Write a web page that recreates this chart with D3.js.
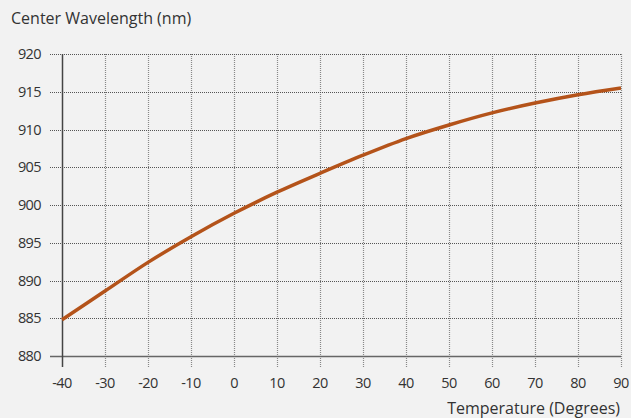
<!DOCTYPE html>
<html>
<head>
<meta charset="utf-8">
<script src="https://cdn.jsdelivr.net/npm/d3@7"></script>
<style>
  html, body { margin: 0; padding: 0; background: #f2f2f2; }
  svg { display: block; }
  text { font-family: "Open Sans", "Noto Sans", sans-serif; fill: #333; }
</style>
</head>
<body>
<svg id="chart" width="631" height="418"></svg>
<script>
// Center wavelength versus temperature
const temperatures = [-40, -30, -20, -10, 0, 10, 20, 30, 40, 50, 60, 70, 80, 90];
const wavelengths = [884.8, 888.6, 892.4, 895.8, 898.9, 901.7, 904.2, 906.6, 908.8, 910.6, 912.2, 913.5, 914.6, 915.5];
const xTicks = [-40, -30, -20, -10, 0, 10, 20, 30, 40, 50, 60, 70, 80, 90];
const yTicks = [880, 885, 890, 895, 900, 905, 910, 915, 920];
const yTitle = "Center Wavelength (nm)";
const xTitle = "Temperature (Degrees)";

const svg = d3.select("#chart");
const plotLeft = 62, plotRight = 621, plotTop = 54, plotBottom = 356;

const x = d3.scaleLinear().domain([-40, 90]).range([plotLeft, plotRight]);
const y = d3.scaleLinear().domain([880, 920]).range([plotBottom, plotTop]);

// vertical dotted grid (extends below the x axis as a tick)
svg.append("g").selectAll("line").data(xTicks.filter(d => d !== -40)).join("line")
  .attr("x1", d => Math.round(x(d)) + 0.5).attr("x2", d => Math.round(x(d)) + 0.5)
  .attr("y1", plotTop).attr("y2", plotBottom + 11)
  .attr("stroke", "#888").attr("stroke-width", 1.2).attr("stroke-dasharray", "1,1");

// horizontal dotted grid (extends past the y axis as a tick)
svg.append("g").selectAll("line").data(yTicks.filter(d => d !== 880)).join("line")
  .attr("x1", plotLeft - 12).attr("x2", plotRight)
  .attr("y1", d => Math.round(y(d)) + 0.5).attr("y2", d => Math.round(y(d)) + 0.5)
  .attr("stroke", "#555").attr("stroke-width", 1).attr("stroke-dasharray", "1,1");

// axis lines
svg.append("line")
  .attr("x1", plotLeft - 12).attr("x2", plotRight)
  .attr("y1", Math.round(y(880)) + 0.5).attr("y2", Math.round(y(880)) + 0.5)
  .attr("stroke", "#666").attr("stroke-width", 1.5);
svg.append("line")
  .attr("x1", Math.round(x(-40)) + 0.5).attr("x2", Math.round(x(-40)) + 0.5)
  .attr("y1", plotTop).attr("y2", plotBottom + 11)
  .attr("stroke", "#444").attr("stroke-width", 1.5);

// tick labels
svg.append("g").selectAll("text").data(yTicks).join("text")
  .attr("x", 41).attr("y", d => y(d) + 5)
  .attr("text-anchor", "end").attr("font-size", 14.5).attr("letter-spacing", -0.6)
  .text(d => d);
svg.append("g").selectAll("text").data(xTicks).join("text")
  .attr("x", d => x(d)).attr("y", 387.5)
  .attr("text-anchor", "middle").attr("font-size", 14.5).attr("letter-spacing", -0.6)
  .text(d => d);

// titles
svg.append("text").attr("x", 11).attr("y", 24).attr("font-size", 16).text(yTitle);
svg.append("text").attr("x", 620).attr("y", 414).attr("text-anchor", "end").attr("font-size", 16).text(xTitle);

// curve
const line = d3.line()
  .x((d, i) => x(temperatures[i]))
  .y(d => y(d))
  .curve(d3.curveCatmullRom);
svg.append("path").datum(wavelengths)
  .attr("d", line)
  .attr("fill", "none").attr("stroke", "#b4531a").attr("stroke-width", 3.5)
  .attr("stroke-linecap", "butt");
</script>
</body>
</html>
